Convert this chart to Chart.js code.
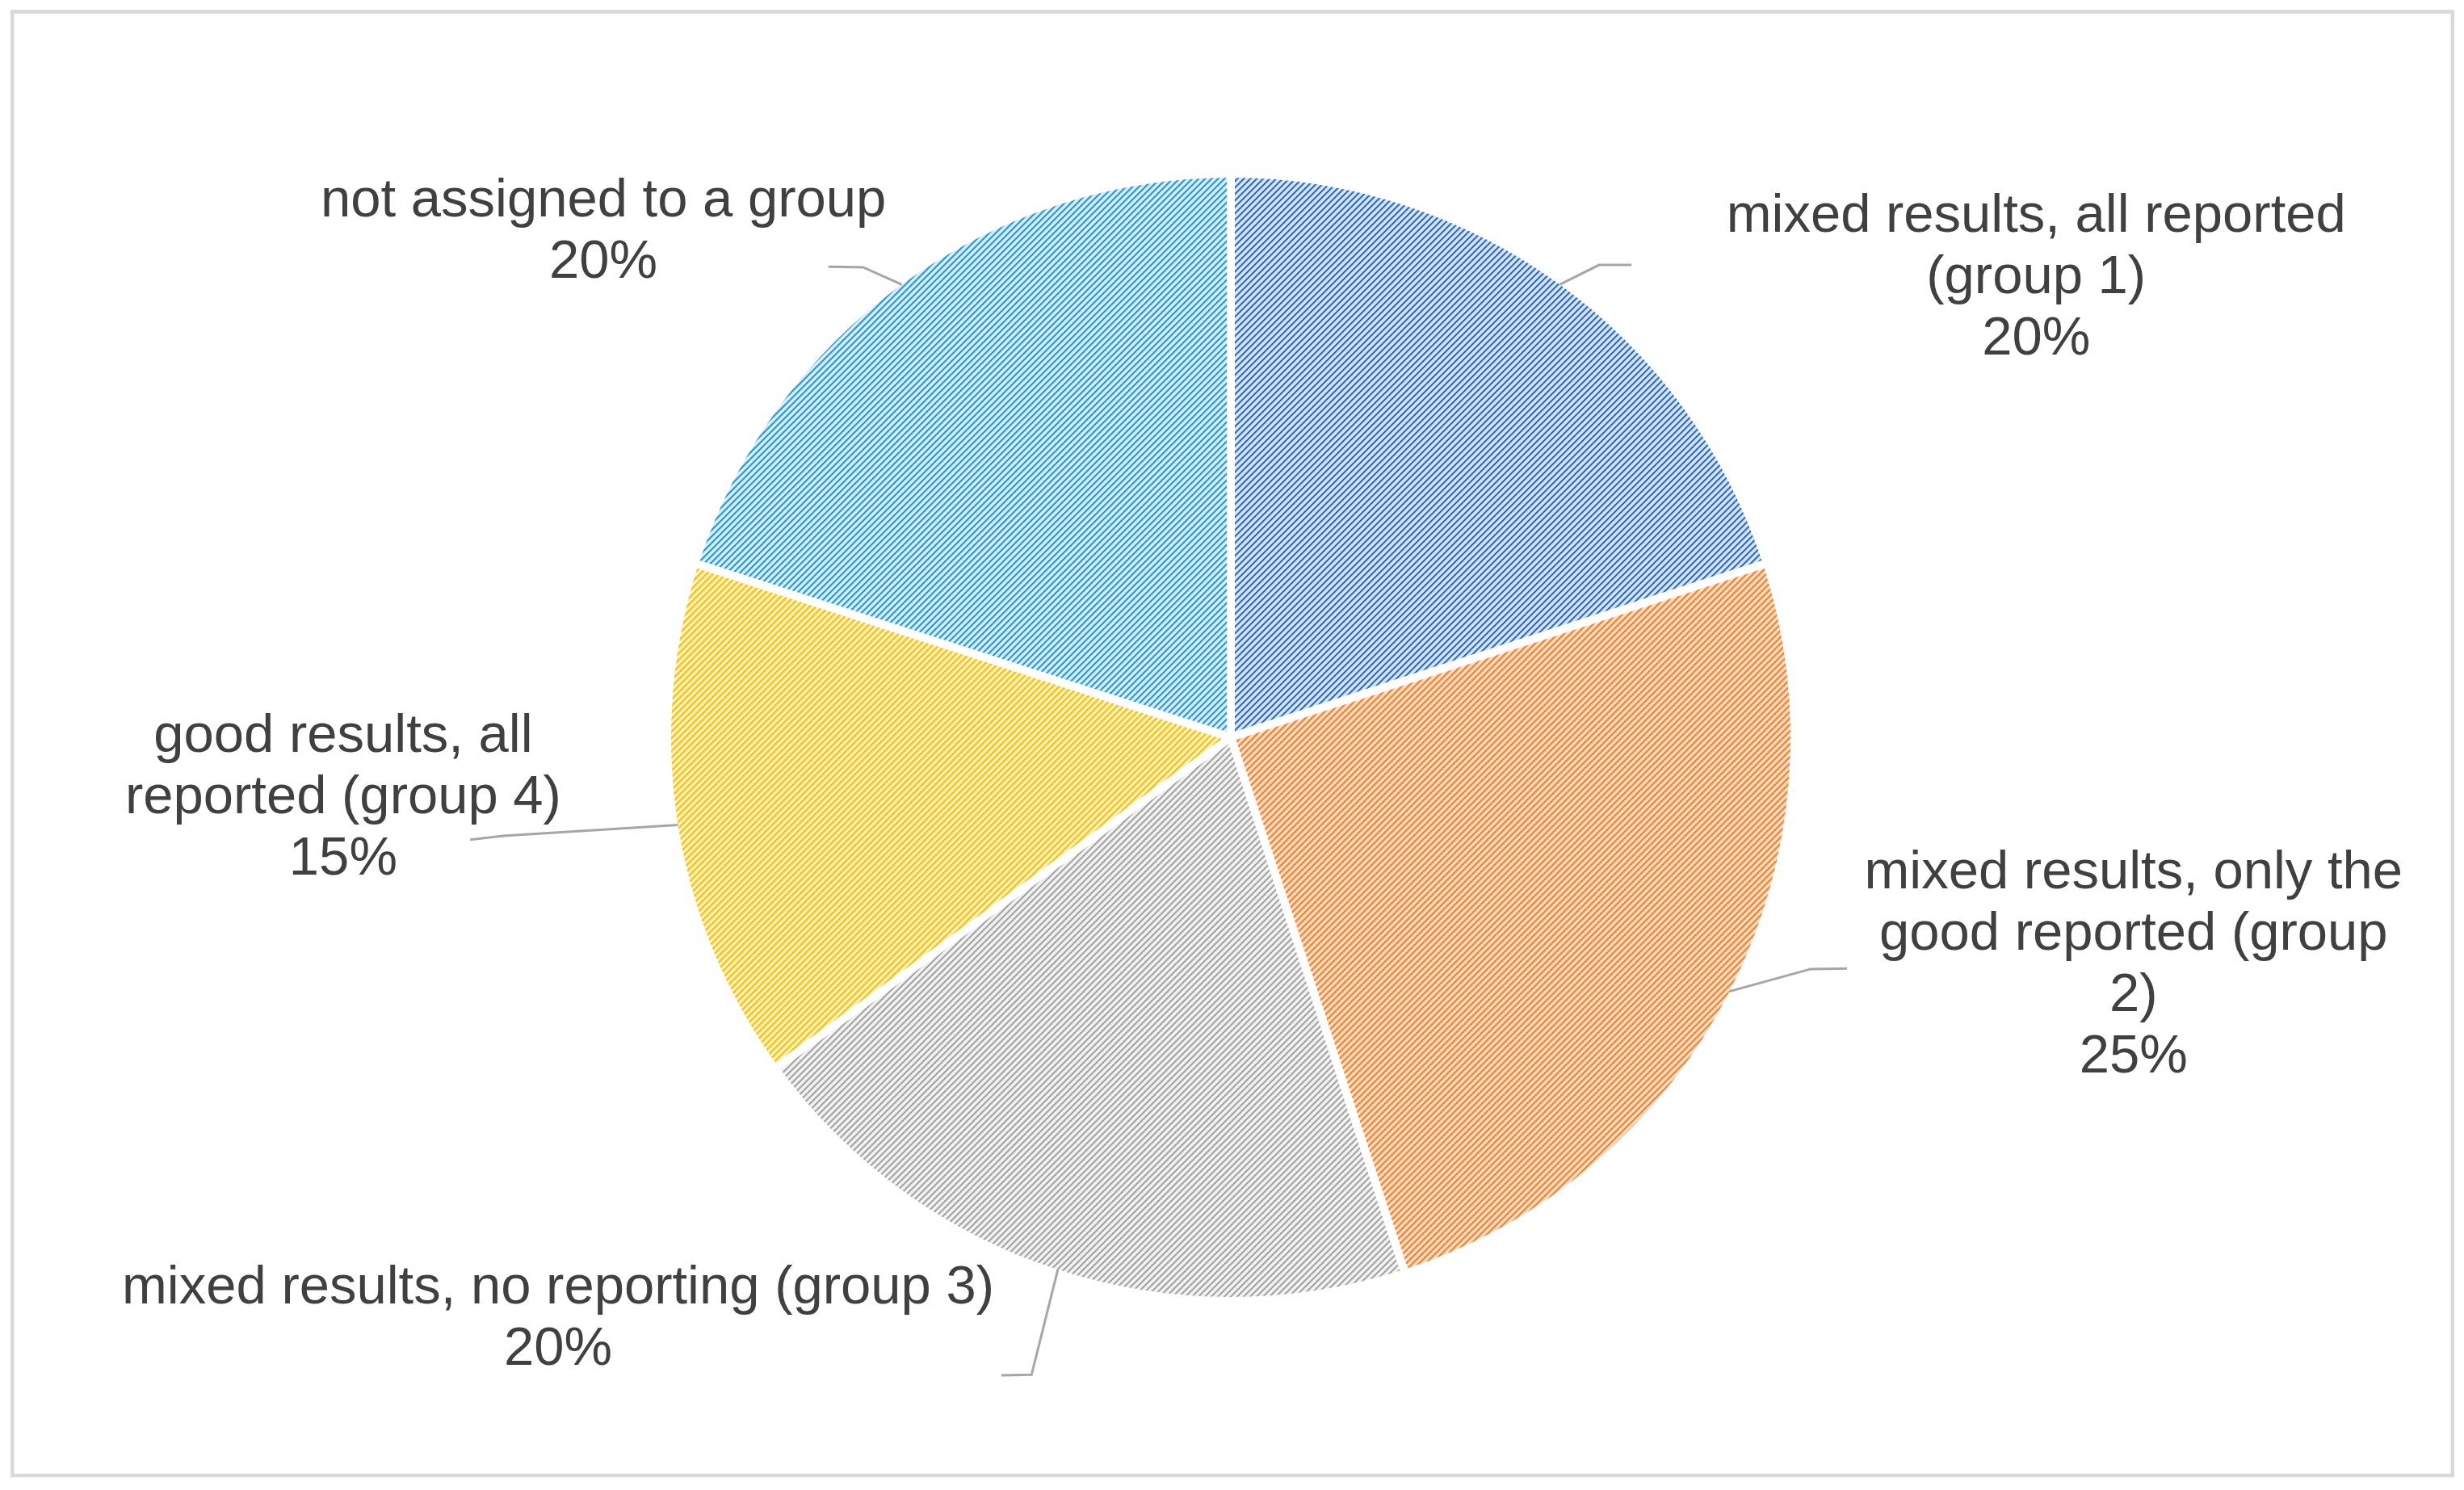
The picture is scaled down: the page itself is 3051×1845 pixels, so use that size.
<!DOCTYPE html>
<html><head><meta charset="utf-8">
<script src="https://cdn.jsdelivr.net/npm/chart.js@4.4.1/dist/chart.umd.min.js"></script>
<style>html,body{margin:0;padding:0;background:#fff;overflow:hidden}canvas{display:block}</style>
</head><body>
<canvas id="c" width="3051" height="1845"></canvas>
<script>
// ---- data ----
const categories = [
  'mixed results, all reported (group 1)',
  'mixed results, only the good reported (group 2)',
  'mixed results, no reporting (group 3)',
  'good results, all reported (group 4)',
  'not assigned to a group'
];
const labelLines = [
  ['mixed results, all reported', '(group 1)'],
  ['mixed results, only the', 'good reported (group', '2)'],
  ['mixed results, no reporting (group 3)'],
  ['good results, all', 'reported (group 4)'],
  ['not assigned to a group']
];
const percentValues = [20, 25, 20, 15, 20];

// ---- styles / layout (not data) ----
const sliceColors = [
  {dark:[40,108,206],  mid:[128,166,228], light:[218,229,248]},
  {dark:[255,125,30],  mid:[255,172,116], light:[255,222,200]},
  {dark:[162,162,162], mid:[204,204,204], light:[242,242,242]},
  {dark:[255,192,0],   mid:[255,212,76],  light:[255,241,200]},
  {dark:[34,154,222],  mid:[124,192,238], light:[218,237,251]}
];
// in units of pie radius, relative to the pie centre
const labelAnchors = [[1.439,-0.794],[1.613,0.434],[-1.202,1.067],[-1.586,0.136],[-1.121,-0.876]];
const leaderElbows = [[0.658,-0.844],[1.036,0.414],[-0.356,1.139],[-1.30,0.176],[-0.657,-0.840]];
const leaderEnds   = [[0.716,-0.844],[1.101,0.413],[-0.410,1.140],[-1.359,0.183],[-0.719,-0.841]];
const FONT_PX = 67, LINE_H = 76, PIE_R = 693;

function makePattern(c) {
  const P = 8;
  const cv = document.createElement('canvas');
  cv.width = P; cv.height = P;
  const cx = cv.getContext('2d');
  const img = cx.createImageData(P, P);
  for (let y = 0; y < P; y++) for (let x = 0; x < P; x++) {
    const d = (x + y) % P;
    const col = (d === 0 || d === 1) ? c.dark : (d === 2 || d === 7) ? c.mid : c.light;
    const i = (y * P + x) * 4;
    img.data[i] = col[0]; img.data[i+1] = col[1]; img.data[i+2] = col[2]; img.data[i+3] = 255;
  }
  cx.putImageData(img, 0, 0);
  return document.getElementById('c').getContext('2d').createPattern(cv, 'repeat');
}

const framePlugin = {
  id: 'frame',
  beforeDraw(chart) {
    const ctx = chart.ctx;
    ctx.save();
    ctx.fillStyle = '#ffffff';
    ctx.fillRect(0, 0, chart.width, chart.height);
    ctx.strokeStyle = '#d9d9d9';
    ctx.lineWidth = 4.5;
    ctx.strokeRect(15.25, 14.5, 3021.5, 1812.5);
    ctx.restore();
  }
};

const labelPlugin = {
  id: 'pieLabels',
  afterDatasetsDraw(chart) {
    const ctx = chart.ctx;
    const meta = chart.getDatasetMeta(0);
    const total = percentValues.reduce((a, b) => a + b, 0);
    ctx.save();
    meta.data.forEach((arc, i) => {
      const p = arc.getProps(['x','y','startAngle','endAngle','outerRadius'], true);
      const R = PIE_R;
      const mid = (p.startAngle + p.endAngle) / 2;
      const sx = p.x + Math.cos(mid) * R, sy = p.y + Math.sin(mid) * R;
      const ex = p.x + leaderElbows[i][0] * R, ey = p.y + leaderElbows[i][1] * R;
      const fx = p.x + leaderEnds[i][0] * R, fy = p.y + leaderEnds[i][1] * R;
      ctx.strokeStyle = '#a6a6a6';
      ctx.lineWidth = 3;
      ctx.beginPath();
      ctx.moveTo(sx, sy); ctx.lineTo(ex, ey); ctx.lineTo(fx, fy);
      ctx.stroke();

      const lines = labelLines[i].concat([Math.round(percentValues[i] / total * 100) + '%']);
      const ax = p.x + labelAnchors[i][0] * R, ay = p.y + labelAnchors[i][1] * R;
      ctx.fillStyle = '#404040';
      ctx.font = FONT_PX + 'px "Liberation Sans", Arial, sans-serif';
      ctx.textAlign = 'center';
      ctx.textBaseline = 'alphabetic';
      const n = lines.length;
      lines.forEach((t, k) => {
        ctx.fillText(t, ax, ay + (k - (n - 1) / 2) * LINE_H);
      });
    });
    ctx.restore();
  }
};

new Chart(document.getElementById('c'), {
  type: 'pie',
  data: {
    labels: categories,
    datasets: [{
      data: percentValues,
      backgroundColor: sliceColors.map(makePattern),
      borderColor: '#ffffff',
      borderWidth: 10,
      radius: PIE_R + 5
    }]
  },
  options: {
    responsive: false,
    animation: false,
    layout: { padding: { left: 0, right: 3, top: 0, bottom: 19 } },
    plugins: { legend: { display: false }, tooltip: { enabled: false } }
  },
  plugins: [framePlugin, labelPlugin]
});
</script>
</body></html>
